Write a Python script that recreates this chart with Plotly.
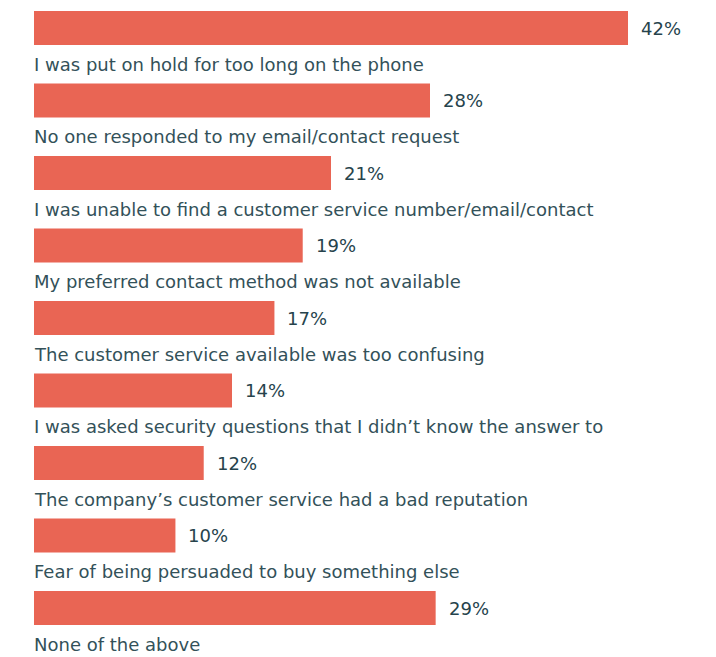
import plotly.graph_objects as go

categories = [
    "I was put on hold for too long on the phone",
    "No one responded to my email/contact request",
    "I was unable to find a customer service number/email/contact",
    "My preferred contact method was not available",
    "The customer service available was too confusing",
    "I was asked security questions that I didn\u2019t know the answer to",
    "The company\u2019s customer service had a bad reputation",
    "Fear of being persuaded to buy something else",
    "None of the above",
]
# bar lengths
values = [42, 28, 21, 19, 17, 14, 12, 10, 28.4]
# printed value labels
value_labels = ["42%", "28%", "21%", "19%", "17%", "14%", "12%", "10%", "29%"]

BAR = "#E96554"
TXT = "#335159"
NUM = "#26434c"
FONT = "DejaVu Sans"

pos = list(range(len(categories)))

fig = go.Figure(go.Bar(
    x=values, y=pos, orientation="h", width=0.469,
    marker=dict(color=BAR, line=dict(width=0)),
    hoverinfo="skip",
))

ann = []
for i, (c, v, t) in enumerate(zip(categories, values, value_labels)):
    ann.append(dict(x=0, y=i + 0.5, xref="x", yref="y", text=c, showarrow=False,
                    xanchor="left", yanchor="middle", xshift=-2,
                    font=dict(family=FONT, size=18, color=TXT)))
    ann.append(dict(x=v, y=i, xref="x", yref="y", text=t, showarrow=False,
                    xanchor="left", yanchor="middle", xshift=11,
                    font=dict(family=FONT, size=18, color=NUM)))

fig.update_layout(
    width=716, height=657,
    margin=dict(l=26, r=0, t=0, b=0),
    paper_bgcolor="white", plot_bgcolor="white",
    showlegend=False,
    annotations=ann,
    xaxis=dict(range=[0, 690 / 14.143], visible=False, fixedrange=True),
    yaxis=dict(range=[8.786, -0.276], visible=False, fixedrange=True),
)

fig.write_html("out.html")
